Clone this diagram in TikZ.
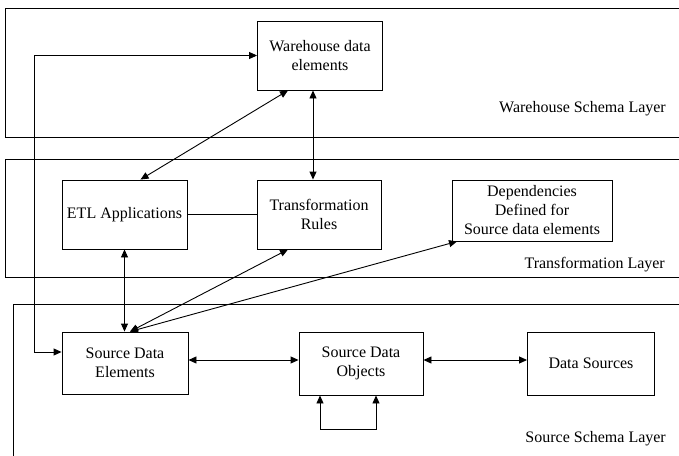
\documentclass[tikz,border=0pt]{standalone}
\usepackage{fontspec}
\setmainfont{Liberation Serif}
\usetikzlibrary{arrows.meta}
\begin{document}
\begin{tikzpicture}[x=1pt,y=-1pt,
  every node/.style={font=\fontsize{16}{19}\selectfont},
  box/.style={draw, line width=0.9pt, align=center, inner sep=0pt, minimum width=#1},
  layer/.style={draw, line width=0.9pt},
  con/.style={line width=0.9pt},
  dbl/.style={line width=0.9pt, {Triangle[length=8pt,width=7pt]}-{Triangle[length=8pt,width=7pt]}},
  lbl/.style={anchor=base east, inner sep=0pt}]
\useasboundingbox (0,0) rectangle (679,455);
\clip (0,0) rectangle (679,455);
% layers
\draw[layer] (5,8) rectangle (700,137);
\draw[layer] (5,159) rectangle (700,277);
\draw[layer] (13,304) rectangle (700,470);
% boxes
\node[box=125pt, minimum height=69pt] (wde) at (320,55.5) {Warehouse data\\elements};
\node[box=125pt, minimum height=69pt] (etl) at (124.5,214.5) {ETL Applications};
\node[box=124pt, minimum height=69pt] (tr) at (319,214.5) {Transformation\\Rules};
\node[box=160pt, minimum height=61pt] (dep) at (532,210.5) {Dependencies\\Defined for\\Source data elements};
\node[box=126pt, minimum height=62pt] (sde) at (125,363) {Source Data\\Elements};
\node[box=124pt, minimum height=63pt] (sdo) at (361,363.5) {Source Data\\Objects};
\node[box=127pt, minimum height=63pt] (ds) at (591,363.5) {Data Sources};
% labels
\node[lbl] (lw) at (666,112) {Warehouse Schema Layer};
\node[lbl] (lt) at (665,268) {Transformation Layer};
\node[lbl] (ls) at (666,442) {Source Schema Layer};
% connectors
\coordinate (c1) at (34,55.5);
\coordinate (c2) at (34,352);
\draw[dbl] (wde.west) -- (c1) -- (c2) -- (sde.west |- c2);
\draw[dbl] ([xshift=-32pt]wde.south) -- ([xshift=16pt]etl.north);
\draw[dbl] ([xshift=-7pt]wde.south) -- ([xshift=-6pt]tr.north);
\draw[con] (etl) -- (tr);
\draw[dbl] (etl.south) -- (etl.south |- sde.north);
\draw[dbl] ([xshift=5pt]sde.north) -- ([xshift=-31pt]tr.south);
\draw[dbl] ([xshift=5pt]sde.north) -- ([xshift=-75pt]dep.south);
\draw[dbl] ([yshift=3pt]sde.east) -- ([yshift=3.5pt]sdo.west);
\draw[dbl] ([yshift=3.5pt]sdo.east) -- ([yshift=3.5pt]ds.west);
\draw[dbl] ([xshift=-41pt]sdo.south) -- ++(0,34) -| ([xshift=15pt]sdo.south);
\end{tikzpicture}
\end{document}
